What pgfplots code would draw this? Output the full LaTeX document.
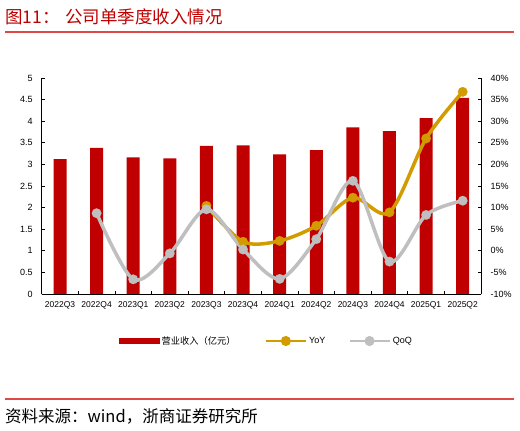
\documentclass[border=0pt]{standalone}
\usepackage{fontspec}
\setmainfont{Liberation Sans}
\newfontfamily\cjk{Noto Sans CJK SC}
\usepackage{pgfplots}
\pgfplotsset{compat=1.18}
\definecolor{barred}{RGB}{192,0,0}
\definecolor{yoy}{RGB}{210,155,0}
\definecolor{qoq}{RGB}{191,191,191}
\definecolor{titlered}{RGB}{192,0,0}
\definecolor{rulered}{RGB}{224,72,72}
\begin{document}
\begin{tikzpicture}[x=1bp,y=1bp]
\useasboundingbox (0,0) rectangle (520,430);
\fill[white] (0,0) rectangle (520,430);
\node[anchor=base west, inner sep=0pt, text=titlered, font=\cjk\fontsize{17.5bp}{20bp}\selectfont] at (5,406) {图11：};
\node[anchor=base west, inner sep=0pt, text=titlered, font=\cjk\fontsize{17.5bp}{20bp}\selectfont] at (65,406) {公司单季度收入情况};
\draw[rulered, line width=1.5bp] (5,398) -- (514,398);
\draw[rulered, line width=1.2bp] (5,31) -- (514,31);
\node[anchor=base west, inner sep=0pt, font=\cjk\fontsize{16.5bp}{19bp}\selectfont] at (5,8) {资料来源：wind，浙商证券研究所};

\begin{axis}[
  at={(41.7bp,136bp)}, anchor=south west, scale only axis,
  width=439.3bp, height=216bp,
  xmin=-0.5, xmax=11.5, ymin=0, ymax=5,
  axis x line*=bottom, axis y line*=left,
  axis line style={-, line width=0.9bp, black},
  xtick={0,1,2,3,4,5,6,7,8,9,10,11},
  xticklabels={2022Q3,2022Q4,2023Q1,2023Q2,2023Q3,2023Q4,2024Q1,2024Q2,2024Q3,2024Q4,2025Q1,2025Q2},
  x tick style={draw=none},
  ytick={0,0.5,1,1.5,2,2.5,3,3.5,4,4.5,5},
  yticklabels={0,0.5,1,1.5,2,2.5,3,3.5,4,4.5,5},
  tick align=inside, major tick length=3bp,
  tick style={black, line width=0.8bp},
  yticklabel style={font=\fontsize{9bp}{10.8bp}\selectfont, xshift=-5.5bp},
  xticklabel style={font=\fontsize{8.5bp}{10.2bp}\selectfont, yshift=-1.5bp},
  ybar, bar width=13bp, bar shift=0pt,
]
\addplot[fill=barred, draw=none] coordinates {
  (0,3.12) (1,3.38) (2,3.16) (3,3.14) (4,3.43) (5,3.44)
  (6,3.23) (7,3.33) (8,3.86) (9,3.77) (10,4.07) (11,4.54)};
\end{axis}

\begin{axis}[
  at={(41.7bp,136bp)}, anchor=south west, scale only axis,
  width=439.3bp, height=216bp,
  xmin=-0.5, xmax=11.5, ymin=-10, ymax=40,
  axis x line*=bottom, axis y line*=right,
  axis line style={-, line width=0.9bp, black},
  xtick={-0.5,0.5,1.5,2.5,3.5,4.5,5.5,6.5,7.5,8.5,9.5,10.5,11.5},
  xticklabels={},
  ytick={-10,-5,0,5,10,15,20,25,30,35,40},
  yticklabels={-10\%,-5\%,0\%,5\%,10\%,15\%,20\%,25\%,30\%,35\%,40\%},
  tick align=inside, major tick length=3bp,
  tick style={black, line width=0.8bp},
  yticklabel style={font=\fontsize{9bp}{10.8bp}\selectfont, xshift=6bp},
  legend columns=3,
  legend style={at={(axis description cs:0.176,-0.2176)}, anchor=west,
    draw=none, fill=none, inner sep=0pt,
    nodes={inner sep=2bp, font=\fontsize{9bp}{10.8bp}\selectfont},
    /tikz/column 2/.style={column sep=27bp},
    /tikz/column 4/.style={column sep=21bp}},
]
\addlegendimage{legend image code/.code={\fill[barred] (0bp,-2.5bp) rectangle (40bp,2.5bp);}}
\addlegendentry{\cjk\fontsize{9.25bp}{11bp}\selectfont 营业收入（亿元）}
\addplot[yoy, line width=3.5bp, smooth, mark=*, mark size=4.8bp,
  mark options={fill=yoy, draw=yoy, line width=0.1bp},
  legend image code/.code={\draw[yoy, line width=2.5bp] (0bp,0bp) -- (40bp,0bp); \fill[yoy] (20bp,0bp) circle (3.2bp);}]
  coordinates {(4,10.4) (5,2.1) (6,2.3) (7,5.8) (8,12.3) (9,8.9) (10,26.0) (11,36.8)};
\addlegendentry{YoY}
\addplot[qoq, line width=3.5bp, smooth, mark=*, mark size=4.8bp,
  mark options={fill=qoq, draw=qoq, line width=0.1bp},
  legend image code/.code={\draw[qoq, line width=2.5bp] (0bp,0bp) -- (40bp,0bp); \fill[qoq] (20bp,0bp) circle (3.2bp);}]
  coordinates {(1,8.7) (2,-6.6) (3,-0.6) (4,9.6) (5,0.3) (6,-6.5) (7,2.7) (8,16.2) (9,-2.5) (10,8.3) (11,11.6)};
\addlegendentry{QoQ}
\end{axis}
\end{tikzpicture}
\end{document}
